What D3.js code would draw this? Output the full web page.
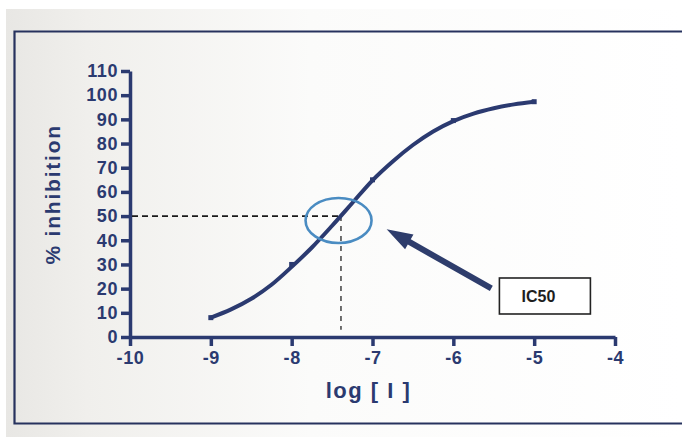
<!DOCTYPE html>
<html>
<head>
<meta charset="utf-8">
<script src="https://cdn.jsdelivr.net/npm/d3@7"></script>
<style>
  body { margin: 0; background: #fff; }
  svg { display: block; }
  .tick text { font-family: "Liberation Sans", Arial, sans-serif; font-weight: bold; }
</style>
</head>
<body>
<div id="chart"></div>
<script>
const WIDTH = 682;
const HEIGHT = 437;
const NAVY = '#2b3a70';

// fitted curve, every 0.25 log unit
const curveLogI = [-9, -8.75, -8.5, -8.25, -8, -7.75, -7.5, -7.25, -7, -6.75, -6.5, -6.25, -6, -5.75, -5.5, -5.25, -5];
const curveInhibition = [8, 11.4, 15.8, 21.6, 29, 37, 46, 55.4, 64.8, 72.6, 79.4, 85, 89.3, 92.4, 94.6, 96.2, 97.3];

// measured points
const pointLogI = [-9, -8, -7, -6, -5];
const pointInhibition = [8, 30, 65, 89.5, 97.3];

const xTicks = [-10, -9, -8, -7, -6, -5, -4];
const yTicks = [0, 10, 20, 30, 40, 50, 60, 70, 80, 90, 100, 110];

const IC50 = -7.39;
const IC50_LABEL = 'IC50';

let svg, xScale, yScale;

function buildBackground() {
  let defs = svg.append('defs');
  let grad = defs.append('linearGradient')
    .attr('id', 'paper')
    .attr('x1', 0).attr('x2', 1).attr('y1', 0).attr('y2', 0);
  grad.append('stop').attr('offset', '0%').attr('stop-color', '#e8e7e4');
  grad.append('stop').attr('offset', '12%').attr('stop-color', '#f0efec');
  grad.append('stop').attr('offset', '45%').attr('stop-color', '#fbfbfa');
  grad.append('stop').attr('offset', '100%').attr('stop-color', '#ffffff');

  svg.append('rect')
    .attr('x', 6).attr('y', 9)
    .attr('width', WIDTH - 6).attr('height', HEIGHT - 9)
    .attr('fill', 'url(#paper)');

  // page frame, open on the right
  svg.append('path')
    .attr('d', `M${WIDTH + 5},31.5 H14.5 V423.5 H${WIDTH + 5}`)
    .attr('fill', 'none')
    .attr('stroke', '#27325e')
    .attr('stroke-width', 2.2);
}

function buildAxis() {
  xScale = d3.scaleLinear().domain([-10, -4]).range([130, 615]);
  yScale = d3.scaleLinear().domain([0, 110]).range([337, 71]);

  let xAxis = d3.axisBottom(xScale)
    .tickValues(xTicks)
    .tickFormat(d3.format('d'))
    .tickSize(9)
    .tickPadding(5)
    .tickSizeOuter(0);

  let yAxis = d3.axisLeft(yScale)
    .tickValues(yTicks)
    .tickFormat(d3.format('d'))
    .tickSize(9)
    .tickPadding(3)
    .tickSizeOuter(0);

  let gx = svg.append('g')
    .attr('class', 'xAxis')
    .attr('transform', `translate(0, ${yScale(0)})`)
    .call(xAxis);

  let gy = svg.append('g')
    .attr('class', 'yAxis')
    .attr('transform', `translate(${xScale(-10)}, 0)`)
    .call(yAxis);

  [gx, gy].forEach((g) => {
    g.select('.domain').attr('stroke', NAVY).attr('stroke-width', 3.5);
    g.selectAll('.tick line').attr('stroke', NAVY).attr('stroke-width', 3.5);
    g.selectAll('.tick text')
      .attr('fill', NAVY)
      .style('font-size', '18px')
      .style('letter-spacing', '0.6px');
  });

  gx.selectAll('.tick text').text((d) => '-' + Math.abs(d));

  svg.append('text')
    .attr('transform', `translate(60, ${yScale(59)}) rotate(-90)`)
    .attr('text-anchor', 'middle')
    .attr('fill', NAVY)
    .style('font-family', '"Liberation Sans", Arial, sans-serif')
    .style('font-weight', 'bold')
    .style('font-size', '21px')
    .style('letter-spacing', '1.8px')
    .text('% inhibition');

  svg.append('text')
    .attr('x', xScale(-7.05))
    .attr('y', 398)
    .attr('text-anchor', 'middle')
    .attr('fill', NAVY)
    .style('font-family', '"Liberation Sans", Arial, sans-serif')
    .style('font-weight', 'bold')
    .style('font-size', '22px')
    .style('letter-spacing', '1.5px')
    .text('log [ I ]');
}

function buildGuides() {
  svg.append('line')
    .attr('x1', xScale(-10) + 2).attr('x2', xScale(IC50))
    .attr('y1', yScale(50)).attr('y2', yScale(50))
    .attr('stroke', '#1a1a1a')
    .attr('stroke-width', 1.6)
    .attr('stroke-dasharray', '6,4');

  svg.append('line')
    .attr('x1', xScale(IC50)).attr('x2', xScale(IC50))
    .attr('y1', yScale(50)).attr('y2', yScale(3))
    .attr('stroke', '#333')
    .attr('stroke-width', 1.4)
    .attr('stroke-dasharray', '5,5');
}

function buildCurve() {
  let data = curveLogI.map((x, i) => ({x: x, y: curveInhibition[i]}));
  let line = d3.line()
    .x((d) => xScale(d.x))
    .y((d) => yScale(d.y))
    .curve(d3.curveMonotoneX);

  svg.append('path')
    .datum(data)
    .attr('d', line)
    .attr('fill', 'none')
    .attr('stroke', NAVY)
    .attr('stroke-width', 4)
    .attr('stroke-linecap', 'butt');

  svg.selectAll('.point')
    .data(pointLogI.map((x, i) => ({x: x, y: pointInhibition[i]})))
    .enter()
    .append('rect')
    .attr('class', 'point')
    .attr('x', (d) => xScale(d.x) - 2.5)
    .attr('y', (d) => yScale(d.y) - 2.5)
    .attr('width', 5)
    .attr('height', 5)
    .attr('fill', NAVY);
}

function buildAnnotation() {
  svg.append('ellipse')
    .attr('cx', xScale(-7.42))
    .attr('cy', yScale(48.2))
    .attr('rx', 33)
    .attr('ry', 22.5)
    .attr('fill', 'none')
    .attr('stroke', '#4a8cc2')
    .attr('stroke-width', 2.6);

  // fat arrow pointing at the circle
  let tip = [xScale(-6.825), yScale(44.6)];
  let tail = [xScale(-5.53), yScale(20.1)];
  let dx = tip[0] - tail[0], dy = tip[1] - tail[1];
  let len = Math.hypot(dx, dy);
  let ux = dx / len, uy = dy / len;
  let nx = -uy, ny = ux;
  let headLen = 26, headHalf = 8.5, shaftHalf = 3;
  let bx = tip[0] - ux * headLen, by = tip[1] - uy * headLen;
  let pts = [
    [tail[0] + nx * shaftHalf, tail[1] + ny * shaftHalf],
    [bx + nx * shaftHalf, by + ny * shaftHalf],
    [bx + nx * headHalf, by + ny * headHalf],
    tip,
    [bx - nx * headHalf, by - ny * headHalf],
    [bx - nx * shaftHalf, by - ny * shaftHalf],
    [tail[0] - nx * shaftHalf, tail[1] - ny * shaftHalf]
  ];
  svg.append('polygon')
    .attr('points', pts.map((p) => p.join(',')).join(' '))
    .attr('fill', '#2e3d6c');

  let bx0 = xScale(-5.43), by0 = yScale(24.4);
  svg.append('rect')
    .attr('x', bx0)
    .attr('y', by0)
    .attr('width', 91)
    .attr('height', 36)
    .attr('fill', '#fff')
    .attr('stroke', '#222')
    .attr('stroke-width', 1.6);

  svg.append('text')
    .attr('x', bx0 + 39)
    .attr('y', by0 + 24)
    .attr('text-anchor', 'middle')
    .attr('fill', '#1e1e1e')
    .style('font-family', '"Liberation Sans", Arial, sans-serif')
    .style('font-weight', 'bold')
    .style('font-size', '16px')
    .text(IC50_LABEL);
}

function buildChart(selector) {
  svg = d3.select(selector).append('svg')
    .attr('width', WIDTH)
    .attr('height', HEIGHT);

  buildBackground();
  buildAxis();
  buildGuides();
  buildCurve();
  buildAnnotation();
}

buildChart('#chart');
</script>
</body>
</html>
